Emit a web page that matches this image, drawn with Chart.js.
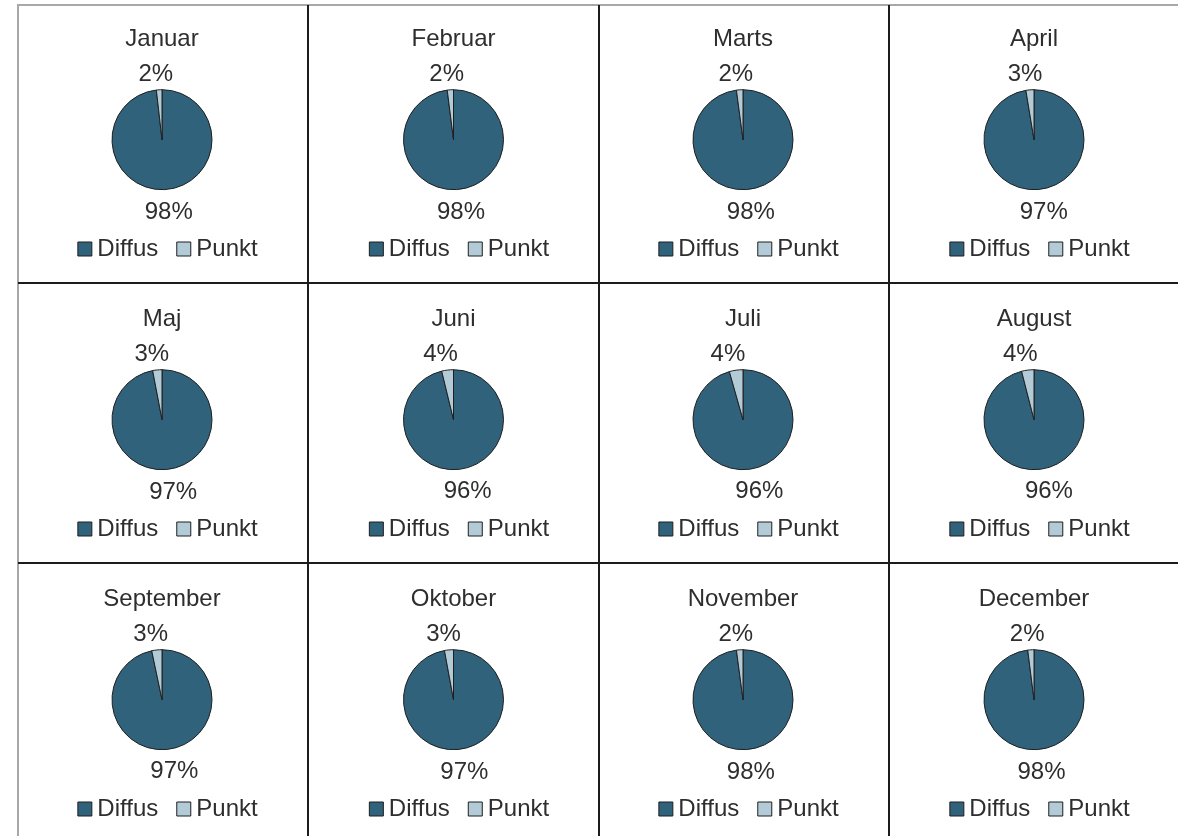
<!DOCTYPE html>
<html lang="da">
<head>
    <meta charset="UTF-8">
    <title>Diffus / Punkt pr. måned</title>
    <script src="https://cdn.jsdelivr.net/npm/chart.js"></script>
    <style>
        html, body {
            margin: 0;
            padding: 0;
            background: #fff;
            width: 1178px;
            height: 836px;
            overflow: hidden;
        }
        .line {
            position: absolute;
        }
        .cell {
            position: absolute;
        }
    </style>
</head>
<body>
    <div id="grid"></div>

    <script>
        // data
        const months = ['Januar', 'Februar', 'Marts', 'April', 'Maj', 'Juni',
                        'Juli', 'August', 'September', 'Oktober', 'November', 'December'];
        const seriesNames = ['Diffus', 'Punkt'];
        const diffus = [98.2, 98.0, 97.9, 97.4, 97.0, 96.2, 95.6, 96.0, 96.7, 97.1, 97.9, 98.0];
        const punkt  = [1.8, 2.0, 2.1, 2.6, 3.0, 3.8, 4.4, 4.0, 3.3, 2.9, 2.1, 2.0];

        const colors = ['#30627c', '#b3cbd6'];
        const textColor = '#2e2e2e';
        const fontFamily = '"Liberation Sans", Arial, sans-serif';

        // cell layout
        const colX = [18, 309, 599, 890];
        const colW = [288, 289, 288, 288];
        const rowY = [3, 283, 563];
        const cellH = 280;

        const grid = document.getElementById('grid');

        function addLine(x, y, w, h, color) {
            const d = document.createElement('div');
            d.className = 'line';
            d.style.left = x + 'px';
            d.style.top = y + 'px';
            d.style.width = w + 'px';
            d.style.height = h + 'px';
            d.style.background = color;
            grid.appendChild(d);
        }

        // outer frame (top + left) and inner separators
        addLine(18, 4, 1160, 2, '#a8a8a8');
        addLine(17, 4, 2, 832, '#a8a8a8');
        [307, 598, 888].forEach(x => addLine(x, 5, 2, 831, '#1c1c1c'));
        [282, 562].forEach(y => addLine(18, y, 1160, 2, '#1c1c1c'));

        // percentage labels placed just outside the pie
        const outsideLabels = {
            id: 'outsideLabels',
            afterLayout(chart) {
                // legend sits a little right of the pie in the original
                chart.legend.left += 9;
                chart.legend.right += 9;
            },
            afterDatasetsDraw(chart) {
                const ctx = chart.ctx;
                const meta = chart.getDatasetMeta(0);
                const values = chart.data.datasets[0].data;
                ctx.save();
                ctx.font = '24px ' + fontFamily;
                ctx.fillStyle = textColor;
                ctx.textAlign = 'center';
                ctx.textBaseline = 'middle';
                meta.data.forEach((arc, i) => {
                    const mid = (arc.startAngle + arc.endAngle) / 2;
                    const text = Math.round(values[i]) + '%';
                    const w = ctx.measureText(text).width;
                    const d = arc.outerRadius + 8;
                    const x = arc.x + Math.cos(mid) * (d + w / 2) * 1.45;
                    const y = arc.y + Math.sin(mid) * (d + 11) + 3.5;
                    ctx.fillText(text, x, y);
                });
                ctx.restore();
            }
        };

        months.forEach((month, i) => {
            const col = i % 4;
            const row = Math.floor(i / 4);
            const canvas = document.createElement('canvas');
            const wrap = document.createElement('div');
            wrap.className = 'cell';
            wrap.style.left = colX[col] + 'px';
            wrap.style.top = rowY[row] + 'px';
            wrap.style.width = colW[col] + 'px';
            wrap.style.height = cellH + 'px';
            wrap.appendChild(canvas);
            grid.appendChild(wrap);

            new Chart(canvas, {
                type: 'pie',
                data: {
                    labels: seriesNames,
                    datasets: [{
                        data: [diffus[i], punkt[i]],
                        backgroundColor: colors,
                        borderColor: '#1f1f1f',
                        borderWidth: 1
                    }]
                },
                options: {
                    responsive: true,
                    maintainAspectRatio: false,
                    animation: false,
                    events: [],
                    radius: 50,
                    layout: {
                        padding: { top: 0, bottom: 12, left: 0, right: 0 }
                    },
                    plugins: {
                        title: {
                            display: true,
                            text: month,
                            color: textColor,
                            font: { family: fontFamily, size: 24, weight: 'normal' },
                            padding: { top: 22, bottom: 13.6 }
                        },
                        legend: {
                            position: 'bottom',
                            labels: {
                                color: textColor,
                                font: { family: fontFamily, size: 24 },
                                usePointStyle: true,
                                pointStyle: 'rect',
                                boxWidth: 1,
                                boxHeight: 14,
                                padding: 25
                            }
                        },
                        tooltip: { enabled: false }
                    }
                },
                plugins: [outsideLabels]
            });
        });
    </script>
</body>
</html>
